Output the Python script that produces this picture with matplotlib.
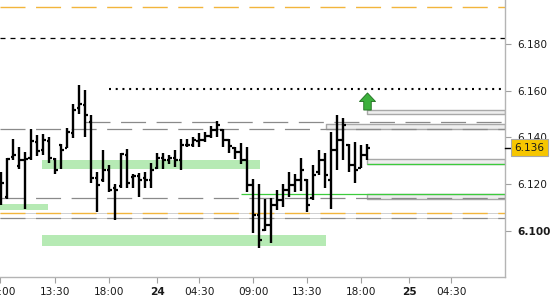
import numpy as np
import matplotlib
matplotlib.use("Agg")
import matplotlib.pyplot as plt
from matplotlib.path import Path
import matplotlib.transforms as mtransforms

plt.rcParams['font.family'] = ['DejaVu Sans']
plt.rcParams['lines.scale_dashes'] = False

# ---------------- data ----------------
highs = [6.1254, 6.1311, 6.1392, 6.1361, 6.1339, 6.1435, 6.1411, 6.1415, 6.1401, 6.1311,
         6.1371, 6.1439, 6.1542, 6.1625, 6.1603, 6.1496, 6.1254, 6.1347, 6.1282, 6.1200,
         6.1332, 6.1351, 6.1244, 6.1249, 6.1254, 6.1290, 6.1335, 6.1335, 6.1325, 6.1347,
         6.1392, 6.1392, 6.1401, 6.1421, 6.1422, 6.1449, 6.1472, 6.1435, 6.1392, 6.1361,
         6.1378, 6.1361, 6.1221, 6.1200, 6.1136, 6.1140, 6.1175, 6.1200, 6.1254, 6.1244,
         6.1311, 6.1221, 6.1282, 6.1347, 6.1332, 6.1425, 6.1496, 6.1485, 6.1372, 6.1382,
         6.1368, 6.1374]
lows = [6.1111, 6.1136, 6.1304, 6.1264, 6.1093, 6.1304, 6.1321, 6.1325, 6.1292, 6.1244,
        6.1264, 6.1354, 6.1397, 6.1499, 6.1403, 6.1204, 6.1083, 6.1211, 6.1168, 6.1047,
        6.1183, 6.1183, 6.1183, 6.1144, 6.1183, 6.1183, 6.1264, 6.1264, 6.1287, 6.1273,
        6.1261, 6.1361, 6.1361, 6.1361, 6.1382, 6.1397, 6.1403, 6.1361, 6.1332, 6.1307,
        6.1287, 6.1168, 6.0993, 6.0929, 6.1000, 6.0949, 6.1090, 6.1103, 6.1145, 6.1167,
        6.1169, 6.1083, 6.1134, 6.1240, 6.1186, 6.1094, 6.1261, 6.1302, 6.1254, 6.1204,
        6.1270, 6.1304]
opens = [6.1133, 6.1145, 6.1317, 6.1278, 6.1304, 6.1312, 6.1381, 6.1347, 6.1385, 6.1308,
         6.1368, 6.1355, 6.1419, 6.1526, 6.1539, 6.1466, 6.1227, 6.1218, 6.1261, 6.1184,
         6.1193, 6.1325, 6.1231, 6.1235, 6.1227, 6.1218, 6.1270, 6.1312, 6.1304, 6.1312,
         6.1304, 6.1368, 6.1368, 6.1385, 6.1389, 6.1406, 6.1432, 6.1430, 6.1389, 6.1355,
         6.1338, 6.1304, 6.1197, 6.1068, 6.1005, 6.1026, 6.1111, 6.1133, 6.1175, 6.1197,
         6.1218, 6.1218, 6.1140, 6.1252, 6.1304, 6.1218, 6.1347, 6.1389, 6.1368, 6.1282,
         6.1270, 6.1325]
closes = [6.1205, 6.1310, 6.1325, 6.1304, 6.1308, 6.1385, 6.1342, 6.1389, 6.1312, 6.1261,
          6.1347, 6.1424, 6.1518, 6.1543, 6.1496, 6.1227, 6.1197, 6.1261, 6.1175, 6.1175,
          6.1329, 6.1205, 6.1235, 6.1218, 6.1218, 6.1261, 6.1312, 6.1304, 6.1312, 6.1304,
          6.1368, 6.1368, 6.1389, 6.1389, 6.1406, 6.1432, 6.1453, 6.1389, 6.1364, 6.1338,
          6.1304, 6.1197, 6.1068, 6.0961, 6.1026, 6.1111, 6.1133, 6.1175, 6.1197, 6.1218,
          6.1261, 6.1111, 6.1240, 6.1304, 6.1240, 6.1347, 6.1389, 6.1453, 6.1282, 6.1261,
          6.1325, 6.1356]

x_tick_pos = [-0.2, 9, 18, 26, 33, 42, 51, 60, 68, 75]
x_tick_labels = ["09:00", "13:30", "18:00", "24", "04:30", "09:00", "13:30", "18:00", "25", "04:30"]
y_ticks = [6.100, 6.120, 6.140, 6.160, 6.180]
y_tick_labels = ["6.100", "6.120", "6.140", "6.160", "6.180"]

# horizontal levels: (price, start_index)
orange_levels = [6.1958, 6.1076]
black_dashed_level = 6.1824
dotted_level, dotted_start = 6.1607, 18
gray_dashed_levels = [(6.1465, 14), (6.1435, -0.2), (6.1142, -0.2), (6.1057, -0.2)]
green_lines = [(6.1157, 40), (6.1285, 61)]
gray_boxes = [(6.1499, 6.1518, 61), (6.1436, 6.1456, 54.1), (6.1285, 6.1307, 61), (6.1136, 6.1157, 61)]
green_zones = [(6.1090, 6.1116, -0.2, 7.8), (6.1265, 6.1304, 6.8, 43.1), (6.0936, 6.0983, 6.8, 54.1)]
last_price = 6.1356
last_label = "6.136"

# ---------------- figure ----------------
fig = plt.figure(figsize=(5.5, 3.0), dpi=100)
ax = fig.add_axes([0.0, 23/300, 505/550, 277/300])
XMIN, XMAX = -0.2, 505/6 - 0.2
ax.set_xlim(XMIN, XMAX)
ax.set_ylim(6.08032, 6.19882)

# zones
for lo, hi, x0, x1 in green_zones:
    ax.fill_between([x0, x1], lo, hi, color='#b6eab4', lw=0, zorder=1)
for lo, hi, x0 in gray_boxes:
    ax.fill_between([x0, XMAX], lo, hi, facecolor='#eeeeee', edgecolor='#a8a8a8', lw=1.0, zorder=1.2)

# levels
ax.hlines(orange_levels[1], XMIN, XMAX, color='#d0d0d0', lw=0.7, zorder=1.4)
for lvl in orange_levels:
    ax.hlines(lvl, XMIN, XMAX, color='#f2b53c', lw=1.0, linestyles=(0, (18, 7.6)), zorder=1.5)
ax.hlines(black_dashed_level, XMIN, XMAX, color='black', lw=0.9, linestyles=(0, (3.6, 3.6)), zorder=1.5)
ax.hlines(dotted_level, dotted_start, XMAX, color='black', lw=1.5, linestyles=(0, (1.44, 3.4)), zorder=1.5)
for lvl, x0 in gray_dashed_levels:
    ax.hlines(lvl, x0, XMAX, color='#8a8a8a', lw=0.9, linestyles=(0, (18, 7.6)), zorder=1.5)
ax.hlines(gray_dashed_levels[3][0] - 0.0003, XMIN, XMAX, color='#c8c8c8', lw=0.7, zorder=1.4)
for lvl, x0 in green_lines:
    ax.hlines(lvl, x0, XMAX, color='#3ccc3c', lw=0.9, zorder=1.6)

# OHLC bars
xs = np.arange(len(highs))
ax.vlines(xs, lows, highs, color='black', lw=1.7, zorder=3)
ax.hlines(opens, xs - 0.45, xs, color='black', lw=1.6, zorder=3)
ax.hlines(closes, xs, xs + 0.45, color='black', lw=1.6, zorder=3)

# up arrow marker above last bar
arrow = Path([(-0.22, -0.5), (0.22, -0.5), (0.22, 0.0), (0.47, 0.0), (0.0, 0.5),
              (-0.47, 0.0), (-0.22, 0.0), (-0.22, -0.5)],
             [Path.MOVETO] + [Path.LINETO] * 6 + [Path.CLOSEPOLY])
ax.plot([xs[-1]], [gray_boxes[0][1] + 0.0036], marker=arrow, markersize=12.3,
        markerfacecolor='#3cb03c', markeredgecolor='#1d6e1d', markeredgewidth=0.6,
        linestyle='none', zorder=4)

# axes styling
for s in ['top', 'left']:
    ax.spines[s].set_visible(False)
for s in ['right', 'bottom']:
    ax.spines[s].set_color('#b4b4b4')
    ax.spines[s].set_linewidth(1.0)
ax.yaxis.tick_right()
ax.set_yticks(y_ticks)
ax.set_yticklabels(y_tick_labels)
ax.set_xticks(x_tick_pos)
ax.set_xticklabels(x_tick_labels)
ax.tick_params(axis='both', colors='#a0a0a0', labelcolor='#1a1a1a', labelsize=7.6, length=4, width=0.8)
ax.tick_params(axis='y', pad=5)
ax.tick_params(axis='x', pad=3)
for lab in ax.get_yticklabels():
    if lab.get_text() == "6.100":
        lab.set_fontweight('bold')
for lab in ax.get_xticklabels():
    if lab.get_text() in ("24", "25"):
        lab.set_fontweight('bold')

blend = mtransforms.blended_transform_factory(ax.transAxes, ax.transData)
# partially visible top label
ax.text(1.0 + 10/505, 6.200, "6.200", transform=blend, ha='left', va='center',
        fontsize=7.6, color='#1a1a1a', clip_on=False)
# current price marker
ax.plot([1.0, 1.0 + 5/505], [last_price, last_price], transform=blend, color='black', lw=1.0,
        clip_on=False, zorder=5)
ax.text(1.0 + 24.5/505, last_price, last_label, transform=blend, ha='center', va='center',
        fontsize=7.6, color='#1a1a1a', clip_on=False, zorder=6,
        bbox=dict(boxstyle='square,pad=0.32', fc='#f6c600', ec='#a8a8a8', lw=0.8))

fig.savefig("out.png", dpi=100)
